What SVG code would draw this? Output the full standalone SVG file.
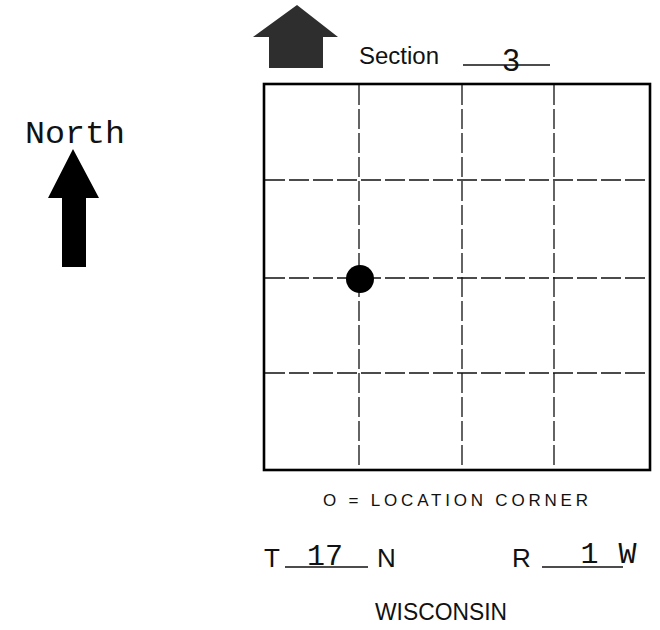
<svg xmlns="http://www.w3.org/2000/svg" width="660" height="630" viewBox="0 0 660 630">
<style>
.sans{font-family:"Liberation Sans",Arial,sans-serif;fill:#111}
.mono{font-family:"Liberation Mono","Courier New",monospace;fill:#111}
.grid{stroke:#111;stroke-width:1.3;fill:none;stroke-dasharray:20 4}
.rule{stroke:#111;stroke-width:1.3}
</style>
<rect width="660" height="630" fill="#fff"/>
<g id="section-arrow">
<polygon points="297,5 338,37 323,37 323,68 269,68 269,37 253,37" fill="#2e2e2e"/>
</g>
<g id="section-label">
<text class="sans" x="359" y="64" font-size="23" textLength="80" lengthAdjust="spacingAndGlyphs">Section</text>
<line class="rule" x1="463" y1="65" x2="550" y2="65"/>
<text class="sans" x="511" y="71" font-size="31" text-anchor="middle">3</text>
</g>
<g id="north">
<text class="mono" x="25" y="143" font-size="31" textLength="100" lengthAdjust="spacingAndGlyphs">North</text>
<polygon points="73,149 99,198 86,198 86,267 62,267 62,198 48,198" fill="#000"/>
</g>
<g id="section-grid">
<rect x="264" y="84" width="386" height="386" fill="none" stroke="#000" stroke-width="2.6"/>
<g id="connectors">
<line class="grid" x1="359" y1="85" x2="359" y2="469"/>
<line class="grid" x1="462" y1="85" x2="462" y2="469" stroke-dasharray="40 4"/>
<line class="grid" x1="554" y1="85" x2="554" y2="469"/>
<line class="grid" x1="265" y1="180" x2="649" y2="180"/>
<line class="grid" x1="265" y1="278" x2="649" y2="278"/>
<line class="grid" x1="265" y1="373" x2="649" y2="373"/>
</g>
<circle id="location-corner" cx="360" cy="279" r="14" fill="#000"/>
</g>
<g id="legend">
<text class="sans" x="323" y="506" font-size="17" textLength="265" lengthAdjust="spacing">O = LOCATION CORNER</text>
</g>
<g id="township">
<text class="sans" x="264" y="567" font-size="26">T</text>
<line class="rule" x1="285" y1="567" x2="368" y2="567"/>
<text class="mono" x="325" y="565" font-size="30" text-anchor="middle">17</text>
<text class="sans" x="377" y="567" font-size="26">N</text>
</g>
<g id="range">
<text class="sans" x="512" y="567" font-size="26">R</text>
<line class="rule" x1="542" y1="567" x2="623" y2="567"/>
<text class="mono" x="589.5" y="563" font-size="30" text-anchor="middle">1</text>
<text class="mono" x="627.5" y="563" font-size="30" text-anchor="middle">W</text>
</g>
<g id="state">
<text class="sans" x="375" y="620" font-size="23" textLength="132" lengthAdjust="spacingAndGlyphs">WISCONSIN</text>
</g>
</svg>
